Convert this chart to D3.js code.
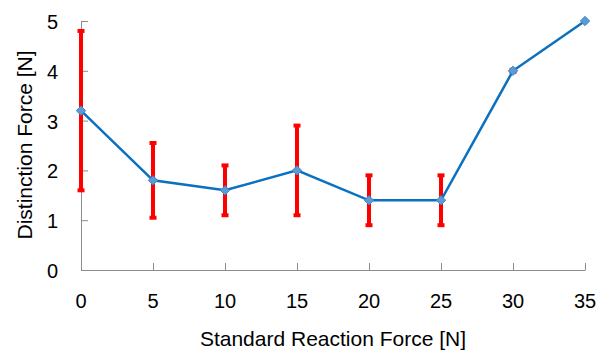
<!DOCTYPE html>
<html>
<head>
<meta charset="utf-8">
<script src="https://cdn.jsdelivr.net/npm/d3@7"></script>
<style>
  body { margin: 0; background: #fff; }
  text { font-family: "Liberation Sans", Arial, sans-serif; fill: #000; }
</style>
</head>
<body>
<script>
var forces = [0, 5, 10, 15, 20, 25, 30, 35];
var distinction = [3.2, 1.8, 1.6, 2.0, 1.4, 1.4, 4.0, 5.0];
var errors = [1.6, 0.75, 0.5, 0.9, 0.5, 0.5, 0.02, 0];
var xTicks = [0, 5, 10, 15, 20, 25, 30, 35];
var yTicks = [0, 1, 2, 3, 4, 5];

var svg = d3.select("body")
    .append("svg")
    .attr("width", 606)
    .attr("height", 352);

var x = d3.scaleLinear().domain([0, 35]).range([81, 585]);
var y = d3.scaleLinear().domain([0, 5]).range([270, 21]);

// axes (ticks pointing inward, labels placed separately)
svg.append("g")
    .attr("transform", "translate(0,270)")
    .call(d3.axisTop(x).tickValues(xTicks).tickSize(7).tickSizeOuter(0).tickFormat(""))
    .call(function(g) {
        g.selectAll("line, path").attr("stroke", "#8c8c8c");
    });

svg.append("g")
    .attr("transform", "translate(81,0)")
    .call(d3.axisRight(y).tickValues(yTicks).tickSize(7).tickSizeOuter(0).tickFormat(""))
    .call(function(g) {
        g.selectAll("line, path").attr("stroke", "#8c8c8c");
    });

svg.selectAll("text.xlab")
    .data(xTicks)
    .enter()
    .append("text")
    .attr("class", "xlab")
    .attr("x", function(d) { return x(d); })
    .attr("y", 308)
    .attr("text-anchor", "middle")
    .attr("font-size", "20px")
    .text(function(d) { return d; });

svg.selectAll("text.ylab")
    .data(yTicks)
    .enter()
    .append("text")
    .attr("class", "ylab")
    .attr("x", 58)
    .attr("y", function(d) { return y(d) + 8; })
    .attr("text-anchor", "end")
    .attr("font-size", "20px")
    .text(function(d) { return d; });

svg.append("text")
    .attr("x", 333)
    .attr("y", 346)
    .attr("text-anchor", "middle")
    .attr("font-size", "21px")
    .text("Standard Reaction Force [N]");

svg.append("text")
    .attr("transform", "translate(32,145) rotate(-90)")
    .attr("text-anchor", "middle")
    .attr("font-size", "21px")
    .text("Distinction Force [N]");

// error bars
var eb = svg.append("g").attr("stroke", "#ff0000");
eb.selectAll("line.bar")
    .data(forces)
    .enter()
    .append("line")
    .attr("x1", function(d) { return x(d); })
    .attr("x2", function(d) { return x(d); })
    .attr("y1", function(d, i) { return y(distinction[i] + errors[i]); })
    .attr("y2", function(d, i) { return y(distinction[i] - errors[i]); })
    .attr("stroke-width", 4);

[1, -1].forEach(function(s) {
    eb.selectAll("line.cap" + s)
        .data(forces.filter(function(d, i) { return errors[i] > 0; }))
        .enter()
        .append("line")
        .attr("x1", function(d) { return x(d) - 3.5; })
        .attr("x2", function(d) { return x(d) + 3.5; })
        .attr("y1", function(d) { var i = forces.indexOf(d); return y(distinction[i] + s * errors[i]); })
        .attr("y2", function(d) { var i = forces.indexOf(d); return y(distinction[i] + s * errors[i]); })
        .attr("stroke-width", 4);
});

// series line
var line = d3.line()
    .x(function(d, i) { return x(forces[i]); })
    .y(function(d) { return y(d); });

svg.append("path")
    .datum(distinction)
    .attr("d", line)
    .attr("fill", "none")
    .attr("stroke", "#0a70c0")
    .attr("stroke-width", 2.5);

svg.selectAll("path.marker")
    .data(distinction)
    .enter()
    .append("path")
    .attr("class", "marker")
    .attr("d", d3.symbol().type(d3.symbolDiamond2).size(56))
    .attr("transform", function(d, i) { return "translate(" + x(forces[i]) + "," + y(d) + ")"; })
    .attr("fill", "#5b9bd5")
    .attr("stroke", "#3f86c8")
    .attr("stroke-width", 1);
</script>
</body>
</html>
